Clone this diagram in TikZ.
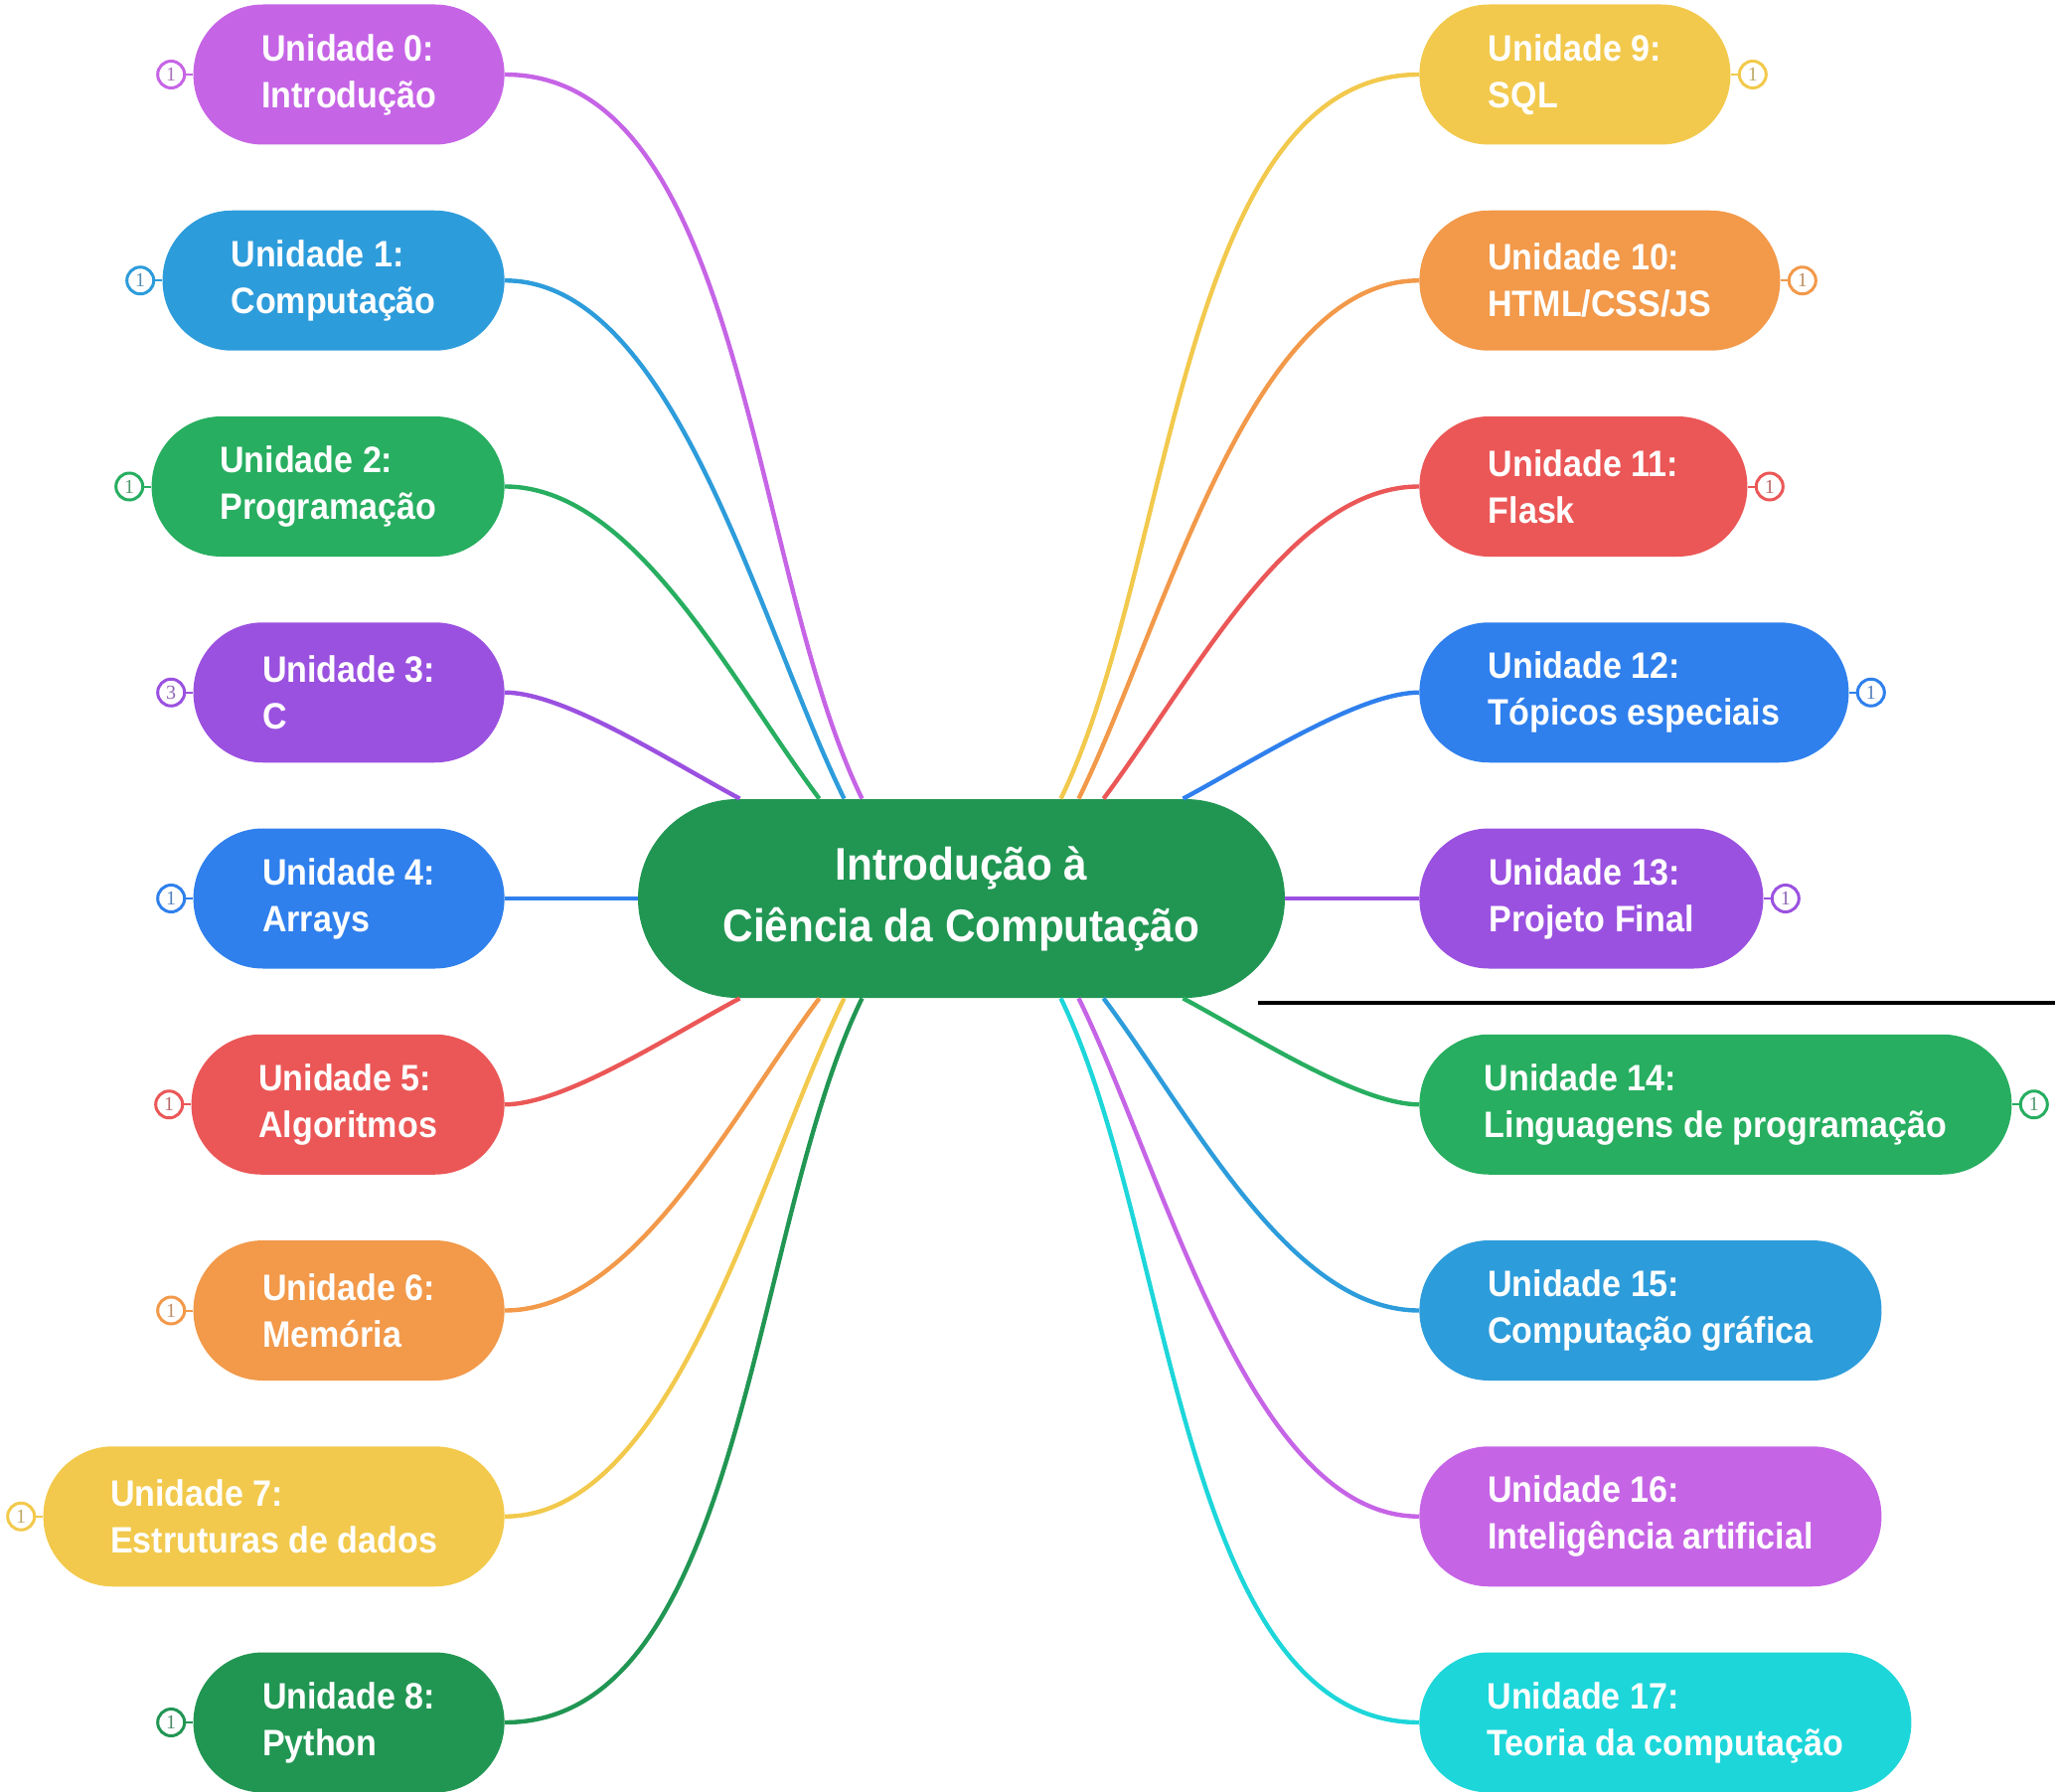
\documentclass[tikz,border=0pt]{standalone}
\usepackage{fontspec}
\setmainfont{Liberation Sans}
\newfontfamily\narrowfont{Liberation Sans}[FakeStretch=0.92]
\newfontfamily\digitfont{Liberation Serif}
\definecolor{cMag}{RGB}{198,100,230}
\definecolor{cSky}{RGB}{45,156,219}
\definecolor{cGrn}{RGB}{39,174,96}
\definecolor{cPur}{RGB}{155,81,224}
\definecolor{cBlu}{RGB}{47,128,237}
\definecolor{cRed}{RGB}{235,87,87}
\definecolor{cOra}{RGB}{242,153,74}
\definecolor{cYel}{RGB}{242,201,76}
\definecolor{cDkg}{RGB}{33,150,83}
\definecolor{cCya}{RGB}{29,214,218}
\tikzset{
  unit/.style={fill=#1, draw=none, rounded corners=35pt, minimum height=70.5pt,
    align=left, text=white, inner xsep=0pt,
    font=\narrowfont\bfseries\fontsize{18.5}{23.5}\selectfont},
  centre/.style={fill=cDkg, draw=none, rounded corners=50pt, minimum height=100pt,
    minimum width=325.5pt, align=center, text=white,
    font=\narrowfont\bfseries\fontsize{23}{31}\selectfont},
  badge/.style={circle, draw=#1, line width=1.5pt, fill=white, minimum size=13.5pt,
    inner sep=0pt, font=\digitfont\fontsize{10}{10}\selectfont, text=#1!55!gray},
  conn/.style={draw=#1, line width=2.2pt},
  tick/.style={draw=#1, line width=1pt},
}
\begin{document}
\begin{tikzpicture}[x=0.5pt, y=-0.5pt]
\useasboundingbox (0,0) rectangle (2068,1803);

% centre
\node[centre] (C) at (967.5,904) {Introdução à\\Ciência da Computação};

% left units
\node[unit=cMag, anchor=east, minimum width=156.5pt] (U0) at (508,75) {Unidade 0:\\Introdução};
\node[unit=cSky, anchor=east, minimum width=172pt] (U1) at (508,282.25) {Unidade 1:\\Computação};
\node[unit=cGrn, anchor=east, minimum width=177.5pt] (U2) at (508,489.5) {Unidade 2:\\Programação};
\node[unit=cPur, anchor=east, minimum width=156.5pt] (U3) at (508,696.75) {Unidade 3:\\C};
\node[unit=cBlu, anchor=east, minimum width=156.5pt] (U4) at (508,904) {Unidade 4:\\Arrays};
\node[unit=cRed, anchor=east, minimum width=157.5pt] (U5) at (508,1111.25) {Unidade 5:\\Algoritmos};
\node[unit=cOra, anchor=east, minimum width=156.5pt] (U6) at (508,1318.5) {Unidade 6:\\Memória};
\node[unit=cYel, anchor=east, minimum width=232pt] (U7) at (508,1525.75) {Unidade 7:\\Estruturas de dados};
\node[unit=cDkg, anchor=east, minimum width=156.5pt] (U8) at (508,1733) {Unidade 8:\\Python};

% right units
\node[unit=cYel, anchor=west, minimum width=156.5pt] (U9) at (1428,75) {Unidade 9:\\SQL};
\node[unit=cOra, anchor=west, minimum width=181.5pt] (U10) at (1428,282.25) {Unidade 10:\\HTML/CSS/JS};
\node[unit=cRed, anchor=west, minimum width=165pt] (U11) at (1428,489.5) {Unidade 11:\\Flask};
\node[unit=cBlu, anchor=west, minimum width=216pt] (U12) at (1428,696.75) {Unidade 12:\\Tópicos especiais};
\node[unit=cPur, anchor=west, minimum width=173pt] (U13) at (1428,904) {Unidade 13:\\Projeto Final};
\node[unit=cGrn, anchor=west, minimum width=298pt] (U14) at (1428,1111.25) {Unidade 14:\\Linguagens de programação};
\node[unit=cSky, anchor=west, minimum width=232.5pt] (U15) at (1428,1318.5) {Unidade 15:\\Computação gráfica};
\node[unit=cMag, anchor=west, minimum width=232.5pt] (U16) at (1428,1525.75) {Unidade 16:\\Inteligência artificial};
\node[unit=cCya, anchor=west, minimum width=247.5pt] (U17) at (1428,1733) {Unidade 17:\\Teoria da computação};

% attachment points on the centre node
\coordinate (tl0) at ([xshift=-50pt]C.north);
\coordinate (tl1) at ([xshift=-59pt]C.north);
\coordinate (tl2) at ([xshift=-71.5pt]C.north);
\coordinate (tl3) at ([xshift=-111.5pt]C.north);
\coordinate (tr0) at ([xshift=50pt]C.north);
\coordinate (tr1) at ([xshift=59pt]C.north);
\coordinate (tr2) at ([xshift=71.5pt]C.north);
\coordinate (tr3) at ([xshift=111.5pt]C.north);
\coordinate (bl0) at ([xshift=-50pt]C.south);
\coordinate (bl1) at ([xshift=-59pt]C.south);
\coordinate (bl2) at ([xshift=-71.5pt]C.south);
\coordinate (bl3) at ([xshift=-111.5pt]C.south);
\coordinate (br0) at ([xshift=50pt]C.south);
\coordinate (br1) at ([xshift=59pt]C.south);
\coordinate (br2) at ([xshift=71.5pt]C.south);
\coordinate (br3) at ([xshift=111.5pt]C.south);

% connectors, left top
\draw[conn=cMag] (U0.east) .. controls +(240,0) and +(-114,-234) .. (tl0);
\draw[conn=cSky] (U1.east) .. controls +(170,0) and +(-88,-180) .. (tl1);
\draw[conn=cGrn] (U2.east) .. controls +(130,0) and +(-90,-120) .. (tl2);
\draw[conn=cPur] (U3.east) .. controls +(60,0) and +(-71,-38) .. (tl3);
\draw[conn=cBlu] (U4.east) -- (C.west);
% left bottom
\draw[conn=cRed] (U5.east) .. controls +(60,0) and +(-71,38) .. (bl3);
\draw[conn=cOra] (U6.east) .. controls +(130,0) and +(-90,120) .. (bl2);
\draw[conn=cYel] (U7.east) .. controls +(170,0) and +(-88,180) .. (bl1);
\draw[conn=cDkg] (U8.east) .. controls +(240,0) and +(-114,234) .. (bl0);
% right top
\draw[conn=cYel] (U9.west) .. controls +(-240,0) and +(114,-234) .. (tr0);
\draw[conn=cOra] (U10.west) .. controls +(-170,0) and +(88,-180) .. (tr1);
\draw[conn=cRed] (U11.west) .. controls +(-130,0) and +(90,-120) .. (tr2);
\draw[conn=cBlu] (U12.west) .. controls +(-60,0) and +(71,-38) .. (tr3);
\draw[conn=cPur] (U13.west) -- (C.east);
% right bottom
\draw[conn=cGrn] (U14.west) .. controls +(-60,0) and +(71,38) .. (br3);
\draw[conn=cSky] (U15.west) .. controls +(-130,0) and +(90,120) .. (br2);
\draw[conn=cMag] (U16.west) .. controls +(-170,0) and +(88,180) .. (br1);
\draw[conn=cCya] (U17.west) .. controls +(-240,0) and +(114,234) .. (br0);

% badges, left
\foreach \n/\c/\d in {0/cMag/1, 1/cSky/1, 2/cGrn/1, 3/cPur/3, 4/cBlu/1, 5/cRed/1, 6/cOra/1, 7/cYel/1, 8/cDkg/1}{
  \node[badge=\c] (b\n) at ([xshift=-11pt]U\n.west) {\d};
  \draw[tick=\c] (U\n.west) -- (b\n);
}
% badges, right
\foreach \n/\c in {9/cYel, 10/cOra, 11/cRed, 12/cBlu, 13/cPur, 14/cGrn}{
  \node[badge=\c] (b\n) at ([xshift=11pt]U\n.east) {1};
  \draw[tick=\c] (U\n.east) -- (b\n);
}

% black rule
\draw[line width=2pt] (1266,1009) -- (2068,1009);
\end{tikzpicture}
\end{document}
